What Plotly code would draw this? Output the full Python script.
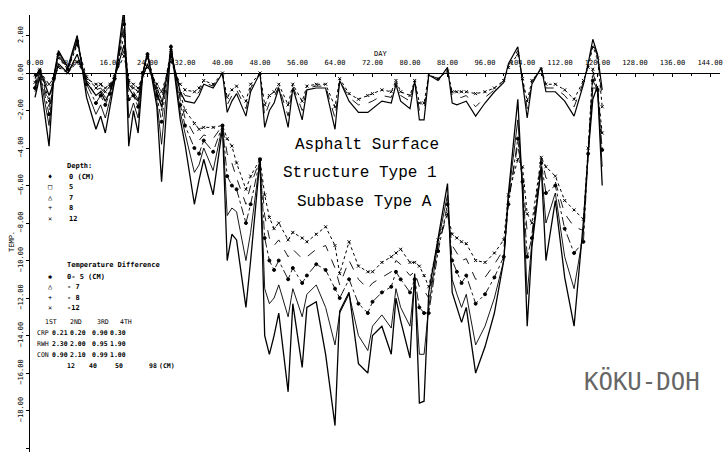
import plotly.graph_objects as go

# ---------------- data ----------------
DAYS = [0, 1, 3, 4, 5, 7, 9, 11, 13, 14,
        15, 16, 17, 19, 20, 21, 22, 23, 24, 26,
        27, 29, 31, 32, 34, 35, 36, 38, 40, 41,
        42, 43, 45, 46, 48, 49, 50, 51, 52, 54,
        55, 57, 58, 60, 62, 64, 65, 67, 69, 71,
        72, 74, 76, 77, 78, 80, 81, 82, 83, 84,
        86, 88, 89, 90, 91, 92, 94, 96, 98, 100,
        101, 103, 104, 105, 106, 108, 109, 111, 113, 115,
        117, 118, 119, 120, 121]

DEPTH_0 = [-1.3, -0.2, -3.9, -0.2, 1.2, 0.3, 2.0, -1.3, -3.0, -2.3,
           -3.2, -1.8, -0.4, 3.5, -3.9, -2.0, -3.2, 0.0, 1.1, -1.8,
           -5.8, 1.5, -2.5, -3.8, -7.0, -5.7, -4.6, -6.5, -2.9, -10.0,
           -8.6, -8.9, -12.5, -10.0, -4.6, -14.0, -15.0, -14.0, -12.8, -17.0,
           -12.3, -15.7, -12.5, -12.2, -15.0, -18.8, -12.7, -11.7, -15.5, -16.0,
           -14.0, -13.5, -15.0, -12.0, -13.2, -15.2, -10.7, -17.6, -17.5, -11.7,
           -8.9, -5.9, -11.7, -12.5, -13.3, -12.5, -16.0, -14.6, -12.8, -10.0,
           -6.4, -1.4, -6.4, -13.5, -9.3, -5.0, -10.0, -6.8, -10.9, -13.5,
           -7.9, -4.3, -1.4, -0.7, -6.0]

DEPTH_5 = [-1.0, 0.0, -2.8, -0.2, 1.1, 0.3, 1.8, -0.9, -2.2, -1.7,
           -2.4, -1.4, -0.4, 3.0, -2.4, -1.6, -2.4, 0.0, 1.0, -1.5,
           -3.8, 1.5, -2.1, -3.2, -5.3, -4.9, -4.0, -5.2, -2.8, -7.6,
           -7.2, -7.4, -10.0, -8.5, -4.6, -11.5, -12.3, -12.0, -11.3, -13.0,
           -11.5, -13.0, -11.8, -11.3, -12.5, -14.5, -12.8, -11.8, -14.0, -14.8,
           -13.5, -12.9, -13.6, -11.5, -12.5, -13.5, -11.0, -15.0, -15.0, -12.5,
           -9.0, -6.5, -11.0, -11.8, -12.5, -11.8, -14.5, -13.5, -12.0, -10.0,
           -6.6, -2.5, -6.0, -11.8, -9.0, -5.0, -8.0, -6.4, -9.8, -11.5,
           -8.5, -4.3, -0.8, -0.8, -5.0]

DEPTH_7 = [-0.8, 0.1, -2.2, -0.3, 1.0, 0.2, 1.7, -0.6, -1.6, -1.2,
           -1.7, -1.1, -0.3, 2.6, -1.4, -1.2, -1.8, 0.0, 1.0, -1.2,
           -2.6, 1.4, -1.7, -2.8, -4.0, -4.3, -3.6, -4.2, -2.8, -5.5,
           -6.0, -6.2, -8.0, -7.0, -4.6, -8.8, -10.0, -10.5, -10.0, -11.0,
           -10.4, -11.2, -10.8, -10.2, -10.5, -11.5, -12.0, -11.0, -12.3, -12.8,
           -12.2, -11.7, -11.4, -10.6, -11.0, -11.7, -11.0, -12.5, -12.8, -12.8,
           -9.5, -7.0, -10.0, -10.6, -11.2, -10.8, -12.3, -11.8, -10.9, -9.8,
           -7.0, -3.5, -5.8, -9.8, -8.8, -4.8, -6.4, -6.0, -8.3, -9.6,
           -9.0, -4.3, -0.4, -0.9, -4.1]

DEPTH_8 = [-0.7, 0.2, -1.8, -0.3, 0.9, 0.2, 1.6, -0.4, -1.2, -0.9,
           -1.3, -0.9, -0.3, 2.3, -0.9, -1.0, -1.4, 0.0, 0.9, -1.0,
           -2.0, 1.3, -1.4, -2.4, -3.3, -3.6, -3.3, -3.5, -2.8, -4.3,
           -4.8, -5.6, -7.0, -6.0, -4.6, -7.6, -8.8, -9.2, -8.9, -9.8,
           -9.4, -9.9, -9.8, -9.4, -9.2, -10.4, -11.3, -10.0, -11.0, -11.5,
           -11.2, -10.9, -10.6, -10.0, -10.2, -10.8, -10.6, -11.4, -11.6, -12.0,
           -9.2, -7.5, -9.2, -9.6, -10.0, -9.9, -11.0, -10.9, -10.2, -9.4,
           -6.8, -3.8, -5.5, -8.5, -8.6, -4.5, -5.6, -5.8, -7.5, -8.2,
           -8.4, -4.2, 0.0, -0.8, -3.6]

DEPTH_12 = [-0.5, 0.2, -1.5, -0.3, 0.8, 0.2, 1.5, -0.2, -0.8, -0.6,
            -1.0, -0.7, -0.2, 2.0, -0.5, -0.8, -1.0, 0.0, 0.8, -0.8,
            -1.5, 1.2, -1.1, -2.0, -2.7, -3.0, -2.9, -2.9, -2.8, -3.5,
            -3.9, -4.8, -6.2, -5.5, -4.6, -6.5, -7.7, -8.3, -8.0, -8.9,
            -8.5, -8.8, -9.0, -8.6, -8.2, -9.2, -10.7, -9.0, -10.3, -10.6,
            -10.6, -10.1, -9.8, -9.6, -9.4, -10.1, -10.1, -10.3, -10.8, -11.4,
            -8.9, -7.5, -8.6, -8.8, -9.0, -9.1, -10.0, -10.1, -9.6, -8.9,
            -6.5, -4.6, -5.0, -7.5, -8.0, -4.5, -5.0, -5.5, -6.8, -7.3,
            -7.8, -4.0, 0.2, -0.9, -3.2]

DIFF_12 = [-0.3, 0.2, -1.2, -0.5, 0.5, 0.0, 1.0, -0.5, -1.2, -1.0,
           -1.5, -1.0, -0.2, 1.5, -0.8, -1.2, -1.5, -0.2, 0.5, -1.0,
           -1.8, 1.0, -1.0, -1.5, -1.6, -1.2, -0.6, -0.8, 0.0, -2.1,
           -1.5, -1.1, -2.3, -1.0, 0.0, -2.9, -2.0, -1.6, -0.8, -2.9,
           -0.8, -2.5, -0.9, -0.8, -0.8, -3.0, -0.4, -1.5, -2.1, -2.1,
           -1.9, -1.5, -1.6, -0.6, -1.5, -1.9, -0.4, -2.5, -2.5, -0.1,
           -0.4, 0.3, -1.6, -1.7, -1.6, -1.5, -2.3, -1.6, -1.0, -0.5,
           0.5, 1.4, -0.5, -2.4, -0.6, 0.3, -1.0, -1.0, -1.5, -2.3,
           -0.6, 0.5, 1.8, 1.0, -0.9]

DIFF_8 = [-0.2, 0.2, -0.9, -0.4, 0.4, 0.0, 0.8, -0.4, -0.9, -0.8,
          -1.1, -0.8, -0.2, 1.2, -0.6, -0.9, -1.1, -0.1, 0.4, -0.8,
          -1.4, 0.8, -0.8, -1.2, -1.3, -1.0, -0.5, -0.7, 0.0, -1.7,
          -1.2, -0.9, -1.9, -0.8, 0.0, -2.3, -1.6, -1.3, -0.7, -2.3,
          -0.7, -2.0, -0.8, -0.7, -0.7, -2.4, -0.4, -1.3, -1.7, -1.6,
          -1.5, -1.2, -1.3, -0.5, -1.2, -1.5, -0.4, -2.0, -2.0, -0.1,
          -0.3, 0.2, -1.2, -1.3, -1.3, -1.2, -1.8, -1.3, -0.9, -0.4,
          0.4, 1.2, -0.4, -1.9, -0.5, 0.3, -0.8, -0.8, -1.2, -1.8,
          -0.5, 0.4, 1.6, 0.9, -1.4]

DIFF_5 = [-0.1, 0.1, -0.6, -0.3, 0.3, 0.0, 0.6, -0.3, -0.6, -0.6,
          -0.8, -0.6, -0.1, 0.9, -0.4, -0.6, -0.8, -0.1, 0.3, -0.6,
          -1.0, 0.6, -0.6, -0.9, -1.0, -0.8, -0.4, -0.6, 0.0, -1.3,
          -0.9, -0.7, -1.5, -0.6, 0.0, -1.7, -1.2, -1.0, -0.6, -1.7,
          -0.6, -1.5, -0.7, -0.6, -0.6, -1.8, -0.3, -1.1, -1.4, -1.2,
          -1.1, -0.9, -1.0, -0.4, -1.0, -1.2, -0.4, -1.6, -1.6, -0.1,
          -0.3, 0.1, -1.0, -1.0, -1.0, -1.0, -1.1, -1.0, -0.8, -0.4,
          0.3, 1.0, -0.3, -1.5, -0.4, 0.2, -0.6, -0.6, -0.9, -1.4,
          -0.4, 0.3, 1.4, 0.8, -1.8]

DEPTH_LABELS = ["0 (CM)", "5", "7", "8", "12"]
DEPTH_SYMBOLS = ["\u2666", "\u25a1", "\u25b3", "+", "\u00d7"]
DIFF_LABELS = ["0- 5 (CM)", "- 7", "- 8", "-12"]
DIFF_SYMBOLS = ["\u2731", "\u25b3", "+", "\u00d7"]

TABLE_HEAD = ["1ST", "2ND", "3RD", "4TH"]
TABLE_ROWS = ["CRP", "RWH", "CON"]
TABLE_VALUES = [["0.21", "0.20", "0.90", "0.30"],
                ["2.30", "2.00", "0.95", "1.90"],
                ["0.90", "2.10", "0.99", "1.00"]]
TABLE_DEPTHS = ["12", "40", "50", "98", "(CM)"]

TITLE_LINES = ["Asphalt Surface", "Structure Type 1", "Subbase Type A"]

# ---------------- figure ----------------
W, H = 725, 452
ML, MR, MT, MB = 30, 5, 15, 0
PW, PH = W - ML - MR, H - MT - MB
X0, X1 = -1.067, 146.13
Y0, Y1 = -20.21, 3.093


def px(x):
    return (x - ML) / PW


def py(y):
    return (H - MB - y) / PH


fig = go.Figure()

series = [
    (DEPTH_0, "solid", 1.3, None),
    (DEPTH_5, "solid", 0.9, None),
    (DEPTH_7, "dashdot", 0.9, "circle"),
    (DEPTH_8, "dash", 0.9, None),
    (DEPTH_12, "dot", 1.0, "x-thin"),
    (DIFF_12, "solid", 1.2, None),
    (DIFF_8, "dash", 0.9, None),
    (DIFF_5, "dot", 1.0, "x-thin"),
]
for vals, dash, w, sym in series:
    mode = "lines+markers" if sym else "lines"
    fig.add_trace(go.Scatter(
        x=DAYS, y=vals, mode=mode,
        line=dict(color="black", width=w, dash=dash),
        marker=dict(symbol=sym or "circle", size=3, color="black",
                    line=dict(color="black", width=1)),
        showlegend=False, hoverinfo="skip"))

zero_pos = (0 - Y0) / (Y1 - Y0)
tickfont = dict(family="DejaVu Sans Mono", size=7, color="black")

fig.update_layout(
    template="none",
    width=W, height=H,
    margin=dict(l=ML, r=MR, t=MT, b=MB, pad=0, autoexpand=False),
    paper_bgcolor="white", plot_bgcolor="white",
    showlegend=False,
    hovermode=False,
    xaxis=dict(range=[X0, X1], anchor="free", position=zero_pos, side="top",
               automargin=False,
               showline=True, linecolor="black", linewidth=1.2,
               tick0=0, dtick=8, tickformat=".2f", ticks="inside",
               ticklen=3, tickcolor="black", tickfont=tickfont,
               ticklabelstandoff=5,
               minor=dict(dtick=4, ticks="inside", ticklen=2, tickcolor="black",
                          showgrid=False),
               showgrid=False, zeroline=False),
    yaxis=dict(range=[Y0, Y1], automargin=False,
               showline=True, linecolor="black", linewidth=1.3,
               tick0=0, dtick=2, tickformat=".2f", tickangle=-90,
               ticks="outside", ticklen=3, tickcolor="black", tickfont=tickfont,
               showgrid=False, zeroline=False),
)

ann = []


def add_text(x, y, text, size=7, family="DejaVu Sans Mono", anchor="left",
             angle=0, color="black"):
    ann.append(dict(x=px(x), y=py(y), xref="paper", yref="paper", text=text,
                    showarrow=False, xanchor=anchor, yanchor="middle",
                    textangle=angle,
                    font=dict(family=family, size=size, color=color)))


# axis titles
add_text(380, 54, "DAY", anchor="center")
add_text(12, 242, "TEMP.", angle=-90, anchor="center")

# depth legend
add_text(65, 166, "<b>Depth:</b>")
for i, (s, lab) in enumerate(zip(DEPTH_SYMBOLS, DEPTH_LABELS)):
    yy = 177 + i * 10.4
    add_text(50, yy, s, anchor="center")
    add_text(67, yy, "<b>" + lab + "</b>")

# temperature difference legend
add_text(65, 265, "<b>Temperature Difference</b>")
for i, (s, lab) in enumerate(zip(DIFF_SYMBOLS, DIFF_LABELS)):
    yy = 276.5 + i * 10.5
    add_text(50, yy, s, anchor="center")
    add_text(65, yy, "<b>" + lab + "</b>")

# table
head_x = [43, 68, 95, 118]
col_x = [50, 68, 90, 108]
for h, xx in zip(TABLE_HEAD, head_x):
    add_text(xx, 322, h, size=6.5)
for r, (name, row) in enumerate(zip(TABLE_ROWS, TABLE_VALUES)):
    yy = 333 + r * 11
    add_text(35, yy, name, size=6.5)
    for v, xx in zip(row, col_x):
        add_text(xx, yy, "<b>" + v + "</b>", size=6.5)
for d, xx in zip(TABLE_DEPTHS, [65, 87, 113, 147, 157]):
    add_text(xx, 366, "<b>" + d + "</b>", size=6.5)

# central title lines
for t, (cx, cy) in zip(TITLE_LINES, [(367, 145), (360, 173), (364, 202)]):
    add_text(cx, cy, t, size=16, family="Liberation Mono", anchor="center")

# KOKU-DOH stamp
add_text(642, 381, "K\u00d6KU-DOH", size=24, family="DejaVu Sans Mono",
         anchor="center", color="#666666")

fig.update_layout(annotations=ann)
# the page's default 8px body margin would shift the whole figure
fig.write_html("out.html", config={"displayModeBar": False},
               post_script="document.body.style.margin='0px';")
